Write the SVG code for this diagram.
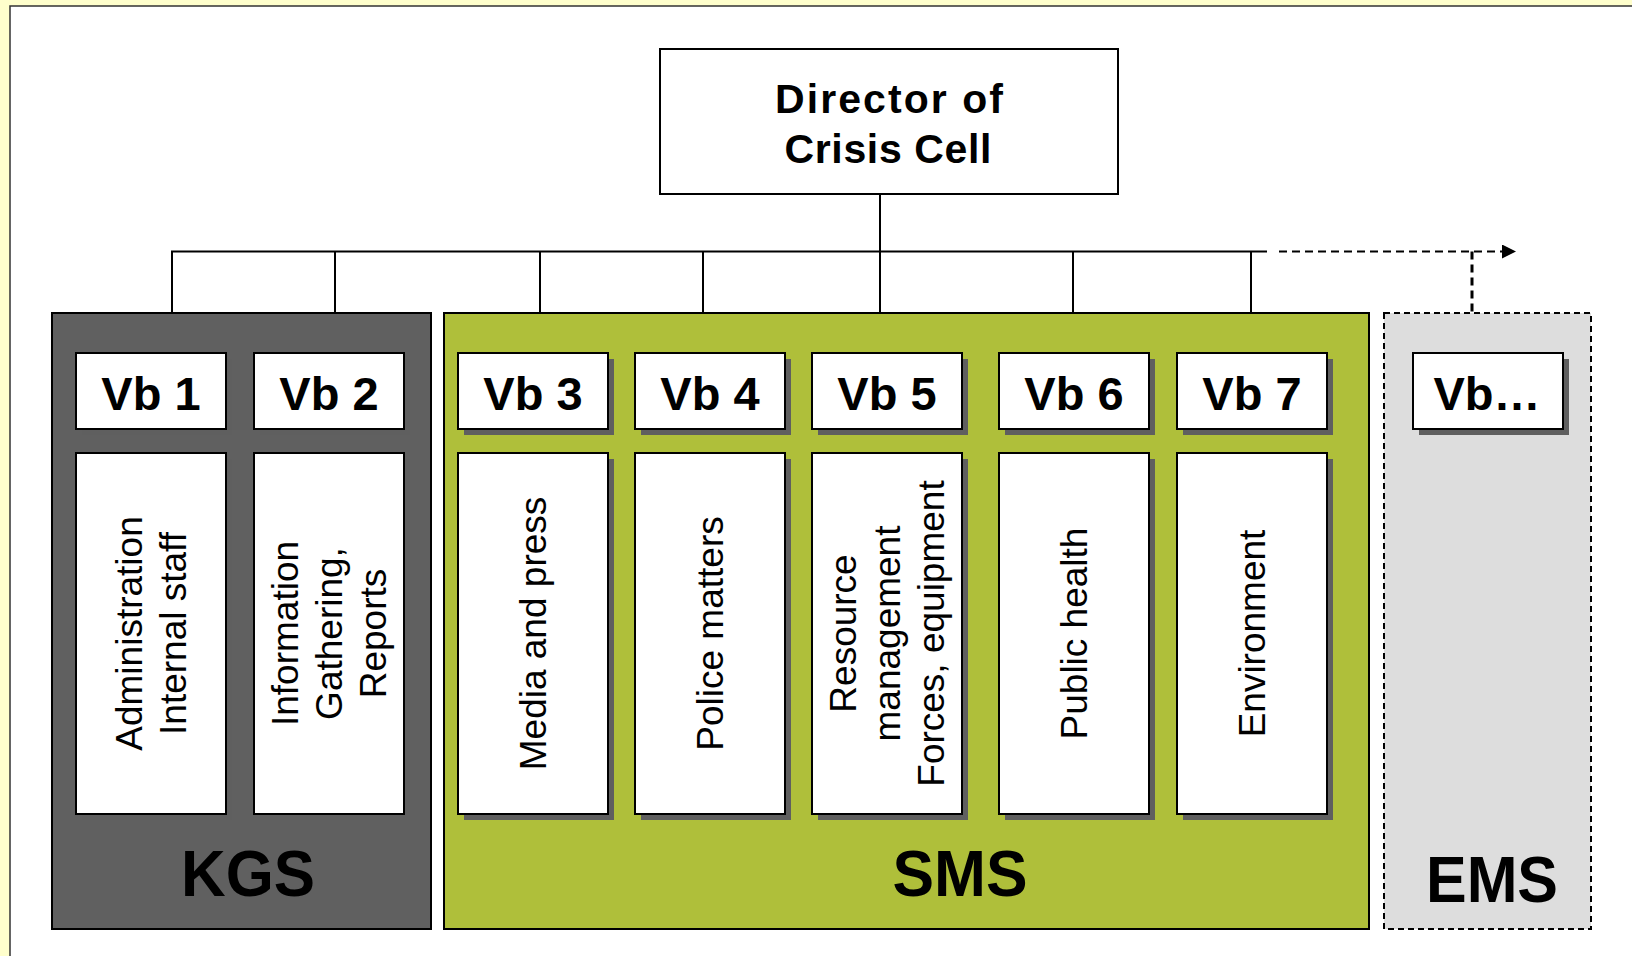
<svg xmlns="http://www.w3.org/2000/svg" width="1632" height="956" viewBox="0 0 1632 956">
<style>
.box{fill:#ffffff;stroke:#000000;stroke-width:2}
.shadow{fill:#5f5f5f;stroke:none}
.vb{font-family:"Liberation Sans",Arial,sans-serif;font-weight:bold;font-size:47px;text-anchor:middle;fill:#000}
.desc{font-family:"Liberation Sans",Arial,sans-serif;font-size:37px;text-anchor:middle;fill:#000}
.grp{font-family:"Liberation Sans",Arial,sans-serif;font-weight:bold;font-size:64px;text-anchor:middle;fill:#000}
.dir{font-family:"Liberation Sans",Arial,sans-serif;font-weight:bold;font-size:41px;text-anchor:middle;fill:#000}
.line{fill:none;stroke:#000;stroke-width:2}
.dash{fill:none;stroke:#000;stroke-width:2;stroke-dasharray:8 5}
</style>
<defs>
<marker id="arrow" markerUnits="userSpaceOnUse" markerWidth="14" markerHeight="14" refX="0" refY="7" orient="auto">
<path d="M0,0 L14,7 L0,14 z" fill="#000"/>
</marker>
</defs>
<rect x="0" y="0" width="1632" height="956" fill="#ffffcc"/>
<rect x="10" y="6" width="1700" height="1000" fill="#ffffff" stroke="#333333" stroke-width="1.5"/>

<g id="connectors">
<path class="line" d="M880,194 V313"/>
<path class="line" d="M172,313 V251.5 H1267"/>
<path class="line" d="M335,251.5 V313"/>
<path class="line" d="M540,251.5 V313"/>
<path class="line" d="M703,251.5 V313"/>
<path class="line" d="M1073,251.5 V313"/>
<path class="line" d="M1251,251.5 V313"/>
<path class="dash" d="M1279,251.5 H1502" marker-end="url(#arrow)"/>
<path class="dash" d="M1472,251.5 V313" style="stroke-width:3"/>
</g>

<g id="node-director">
<rect class="box" x="660" y="49" width="458" height="145"/>
<text class="dir" x="889" y="113" textLength="228" lengthAdjust="spacing">Director of</text>
<text class="dir" x="888" y="163" textLength="207" lengthAdjust="spacing">Crisis Cell</text>
</g>

<g id="group-kgs">
<rect x="52" y="313" width="379" height="616" fill="#606060" stroke="#000" stroke-width="2"/>
<text class="grp" x="248" y="896" textLength="134" lengthAdjust="spacingAndGlyphs">KGS</text>
</g>
<g id="group-sms">
<rect x="444" y="313" width="925" height="616" fill="#afbf3a" stroke="#000" stroke-width="2"/>
<text class="grp" x="960" y="896" textLength="135" lengthAdjust="spacingAndGlyphs">SMS</text>
</g>
<g id="group-ems">
<rect x="1384" y="313" width="207" height="616" fill="#dddddd" stroke="#000" stroke-width="2" stroke-dasharray="6 4"/>
<text class="grp" x="1492" y="902" textLength="132" lengthAdjust="spacingAndGlyphs">EMS</text>
</g>

<g id="node-vb1">
<rect class="shadow" x="82" y="359" width="150" height="76"/>
<rect class="box" x="76" y="353" width="150" height="76"/>
<text class="vb" x="151" y="410">Vb 1</text>
</g>
<g id="node-vb1-desc">
<rect class="shadow" x="82" y="459" width="150" height="361"/>
<rect class="box" x="76" y="453" width="150" height="361"/>
<text class="desc" transform="translate(142,633.5) rotate(-90)"><tspan x="0" y="0">Administration</tspan><tspan x="0" dy="44">Internal staff</tspan></text>
</g>

<g id="node-vb2">
<rect class="shadow" x="260" y="359" width="150" height="76"/>
<rect class="box" x="254" y="353" width="150" height="76"/>
<text class="vb" x="329" y="410">Vb 2</text>
</g>
<g id="node-vb2-desc">
<rect class="shadow" x="260" y="459" width="150" height="361"/>
<rect class="box" x="254" y="453" width="150" height="361"/>
<text class="desc" transform="translate(298,633.5) rotate(-90)"><tspan x="0" y="0">Information</tspan><tspan x="0" dy="44">Gathering,</tspan><tspan x="0" dy="44">Reports</tspan></text>
</g>

<g id="node-vb3">
<rect class="shadow" x="464" y="359" width="150" height="76"/>
<rect class="box" x="458" y="353" width="150" height="76"/>
<text class="vb" x="533" y="410">Vb 3</text>
</g>
<g id="node-vb3-desc">
<rect class="shadow" x="464" y="459" width="150" height="361"/>
<rect class="box" x="458" y="453" width="150" height="361"/>
<text class="desc" transform="translate(546,633.5) rotate(-90)">Media and press</text>
</g>

<g id="node-vb4">
<rect class="shadow" x="641" y="359" width="150" height="76"/>
<rect class="box" x="635" y="353" width="150" height="76"/>
<text class="vb" x="710" y="410">Vb 4</text>
</g>
<g id="node-vb4-desc">
<rect class="shadow" x="641" y="459" width="150" height="361"/>
<rect class="box" x="635" y="453" width="150" height="361"/>
<text class="desc" transform="translate(723,633.5) rotate(-90)">Police matters</text>
</g>

<g id="node-vb5">
<rect class="shadow" x="818" y="359" width="150" height="76"/>
<rect class="box" x="812" y="353" width="150" height="76"/>
<text class="vb" x="887" y="410">Vb 5</text>
</g>
<g id="node-vb5-desc">
<rect class="shadow" x="818" y="459" width="150" height="361"/>
<rect class="box" x="812" y="453" width="150" height="361"/>
<text class="desc" transform="translate(856,633.5) rotate(-90)"><tspan x="0" y="0">Resource</tspan><tspan x="0" dy="44">management</tspan><tspan x="0" dy="44">Forces, equipment</tspan></text>
</g>

<g id="node-vb6">
<rect class="shadow" x="1005" y="359" width="150" height="76"/>
<rect class="box" x="999" y="353" width="150" height="76"/>
<text class="vb" x="1074" y="410">Vb 6</text>
</g>
<g id="node-vb6-desc">
<rect class="shadow" x="1005" y="459" width="150" height="361"/>
<rect class="box" x="999" y="453" width="150" height="361"/>
<text class="desc" transform="translate(1087,633.5) rotate(-90)">Public health</text>
</g>

<g id="node-vb7">
<rect class="shadow" x="1183" y="359" width="150" height="76"/>
<rect class="box" x="1177" y="353" width="150" height="76"/>
<text class="vb" x="1252" y="410">Vb 7</text>
</g>
<g id="node-vb7-desc">
<rect class="shadow" x="1183" y="459" width="150" height="361"/>
<rect class="box" x="1177" y="453" width="150" height="361"/>
<text class="desc" transform="translate(1265,633.5) rotate(-90)">Environment</text>
</g>

<g id="node-vb-more">
<rect class="shadow" x="1419" y="359" width="150" height="76"/>
<rect class="box" x="1413" y="353" width="150" height="76"/>
<text class="vb" x="1487" y="410">Vb…</text>
</g>
</svg>
